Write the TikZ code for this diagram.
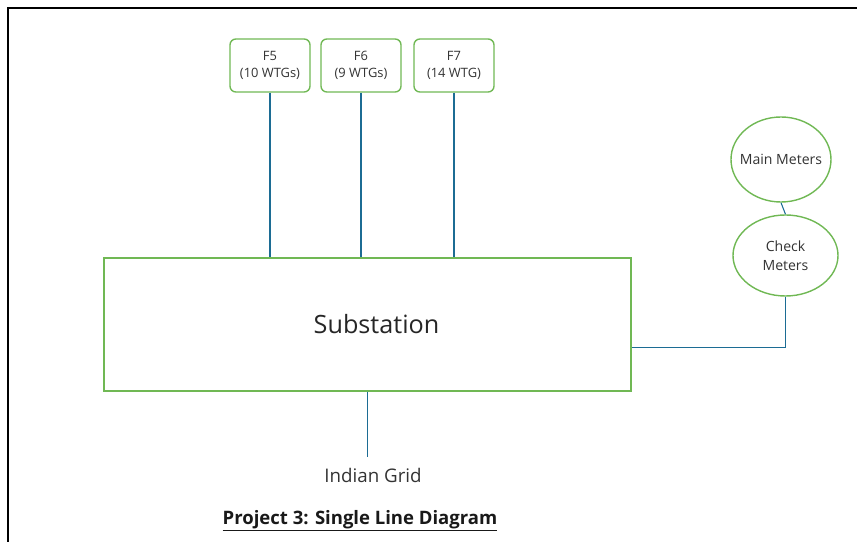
\documentclass[tikz,border=0pt]{standalone}
\usepackage{fontspec}
\setmainfont{Open Sans}
\usetikzlibrary{shapes.geometric, positioning, calc}
\definecolor{boxgreen}{RGB}{112,184,84}
\definecolor{wireblue}{RGB}{28,108,148}

\begin{document}
\begin{tikzpicture}[
    x=0.03cm, y=-0.03cm,
    feeder/.style={rectangle, rounded corners=5pt, draw=boxgreen, line width=1.2pt, minimum width=2.4cm, minimum height=1.59cm, align=center, font=\fontsize{11}{14}\selectfont, text=black!80},
    meter/.style={ellipse, draw=boxgreen, line width=1.2pt, inner sep=0pt},
    meterlabel/.style={align=center, font=\fontsize{12}{16}\selectfont, text=black!80},
    wire/.style={draw=wireblue, line width=0.9pt}
]
    \useasboundingbox (0,0) rectangle (857,542);
    \draw[line width=1.6pt] (857,8) -- (8,8) -- (8,542);

    % feeders
    \node[feeder] (f5) at (270,65.5) {F5 \\ (10 WTGs)};
    \node[feeder] (f6) at (361,65.5) {F6 \\ (9 WTGs)};
    \node[feeder] (f7) at (454,65.5) {F7 \\ (14 WTG)};

    \node[rectangle, draw=boxgreen, line width=1.2pt, minimum width=15.81cm, minimum height=3.99cm, label={[font=\fontsize{21.5}{24}\selectfont, text=black!85, xshift=0.27cm]center:Substation}] (sub) at (367.5,324.5) {};

    % meters
    \node[meter, minimum width=3cm, minimum height=2.55cm, label={[meterlabel]center:Main Meters}] (main) at (781,159.5) {};
    \node[meter, minimum width=3.15cm, minimum height=2.43cm, label={[meterlabel]center:Check \\ Meters}] (check) at (785.5,255.5) {};

    \node[font=\fontsize{16}{18}\selectfont, text=black!80] (grid) at (373,475) {Indian Grid};
    \node[font=\bfseries\fontsize{15.8}{18}\selectfont, text=black!90] (title) at (360,521) {\underline{Project 3: Single Line Diagram}};

    \draw[wire] (f5.south) -- (f5.south |- sub.north);
    \draw[wire] (f6.south) -- (f6.south |- sub.north);
    \draw[wire] (f7.south) -- (f7.south |- sub.north);
    \draw[wire] (main.south) -- (check.north);
    \draw[wire] (check.south) |- ([yshift=-0.69cm]sub.east);
    \draw[wire] (sub.south) -- ([yshift=0.2cm]sub.south |- grid.north);
\end{tikzpicture}
\end{document}
